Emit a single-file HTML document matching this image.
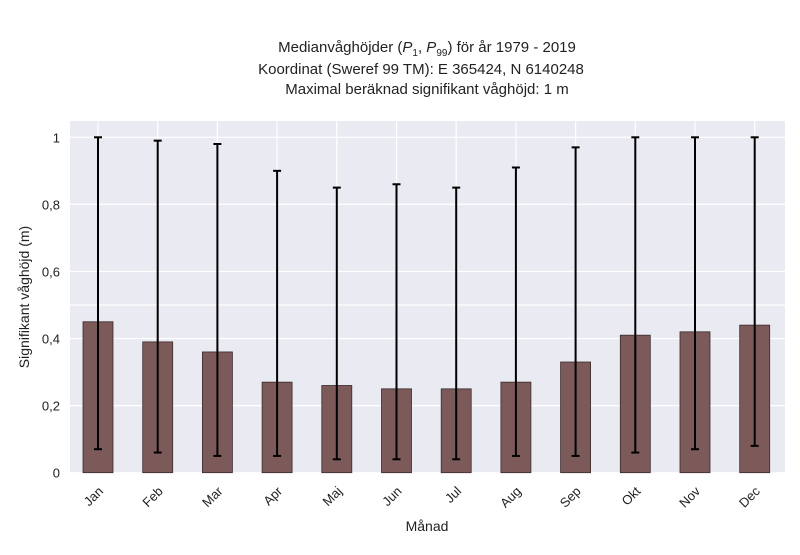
<!DOCTYPE html>
<html><head><meta charset="utf-8"><style>
body{margin:0;background:#fff;font-family:"Liberation Sans",sans-serif}
</style></head><body>
<svg id="chart" width="800" height="550" xmlns="http://www.w3.org/2000/svg" font-family="Liberation Sans, sans-serif">
<g font-size="15" fill="#222" text-anchor="middle">
<text x="427" y="52">Medianvåghöjder (<tspan font-style="italic">P</tspan><tspan font-size="10" dy="4">1</tspan><tspan dy="-4">, </tspan><tspan font-style="italic">P</tspan><tspan font-size="10" dy="4">99</tspan><tspan dy="-4">) för år 1979 - 2019</tspan></text>
<text x="421" y="74">Koordinat (Sweref 99 TM): E 365424, N 6140248</text>
<text x="427" y="94">Maximal beräknad signifikant våghöjd: 1 m</text>
</g>
<rect x="70" y="121" width="715" height="352" fill="#eaeaf2"/>
<g id="grid"></g>
<g id="bars"></g>
<g id="axes" font-size="13" fill="#222"></g>
<text x="427" y="531" font-size="14" text-anchor="middle" fill="#222">Månad</text>
<text transform="translate(29,297) rotate(-90)" font-size="14" text-anchor="middle" fill="#222">Signifikant våghöjd (m)</text>
</svg>
<script>
const months=["Jan","Feb","Mar","Apr","Maj","Jun","Jul","Aug","Sep","Okt","Nov","Dec"];
const median=[0.45,0.39,0.36,0.27,0.26,0.25,0.25,0.27,0.33,0.41,0.42,0.44];
const p1=[0.07,0.06,0.05,0.05,0.04,0.04,0.04,0.05,0.05,0.06,0.07,0.08];
const p99=[1.0,0.99,0.98,0.90,0.85,0.86,0.85,0.91,0.97,1.0,1.0,1.0];
const yTicks=[0,0.2,0.4,0.6,0.8,1];
const yTickLabels=["0","0,2","0,4","0,6","0,8","1"];
const extraGrid=[0.5];
const NS="http://www.w3.org/2000/svg";
const y=v=>472.7-v*335.4;
const x=i=>98+i*59.7;
function mk(t,a,p){const e=document.createElementNS(NS,t);for(const k in a)e.setAttribute(k,a[k]);p.appendChild(e);return e;}
const grid=document.getElementById('grid'),bars=document.getElementById('bars'),axes=document.getElementById('axes');
yTicks.concat(extraGrid).forEach(v=>{const l=mk('line',{x1:70,x2:785,y1:y(v),y2:y(v),stroke:'#fff','stroke-width':1.2},grid);

});
months.forEach((m,i)=>{const l=mk('line',{x1:x(i),x2:x(i),y1:121,y2:473,stroke:'#fff','stroke-width':1.2},grid);

});
yTicks.forEach((v,i)=>{const t=mk('text',{x:60,y:y(v)+5,'text-anchor':'end'},axes);t.textContent=yTickLabels[i];

});
months.forEach((m,i)=>{
const r=mk('rect',{x:x(i)-15,y:y(median[i]),width:30,height:y(0)-y(median[i]),fill:'#7d5a5a',stroke:'#3a2a2a','stroke-width':0.8},bars);


const g=mk('g',{stroke:'#000','stroke-width':2},bars);


mk('line',{x1:x(i),x2:x(i),y1:y(p1[i]),y2:y(p99[i])},g);
mk('line',{x1:x(i)-4,x2:x(i)+4,y1:y(p1[i]),y2:y(p1[i])},g);
mk('line',{x1:x(i)-4,x2:x(i)+4,y1:y(p99[i]),y2:y(p99[i])},g);
const t=mk('text',{x:x(i)+6,y:492,'text-anchor':'end',transform:`rotate(-45 ${x(i)+6} 492)`},axes);t.textContent=m;


});
</script>
</body></html>
